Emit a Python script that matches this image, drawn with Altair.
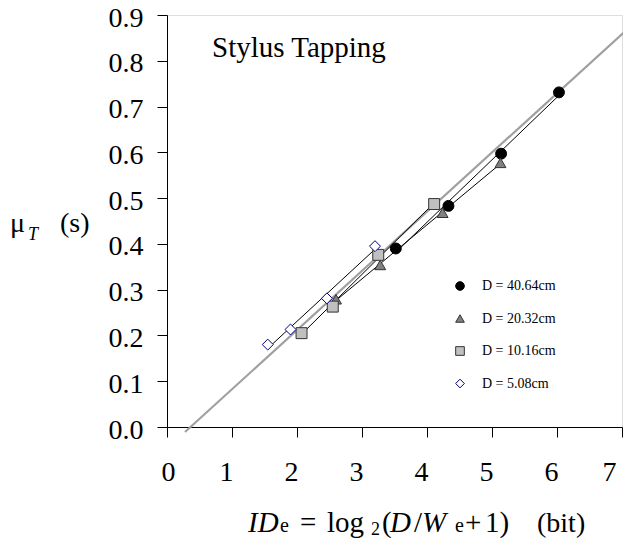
import altair as alt
import pandas as pd

# ---- data ----
d_labels = ["D = 40.64cm", "D = 20.32cm", "D = 10.16cm", "D = 5.08cm"]
x_4064 = [3.52, 4.33, 5.14, 6.03]
y_4064 = [0.390, 0.483, 0.597, 0.731]
x_2032 = [2.60, 3.28, 4.24, 5.13]
y_2032 = [0.279, 0.354, 0.468, 0.577]
x_1016 = [2.07, 2.55, 3.25, 4.11]
y_1016 = [0.205, 0.263, 0.376, 0.487]
x_508 = [1.55, 1.90, 2.46, 3.20]
y_508 = [0.180, 0.213, 0.281, 0.395]
x_ticks = [0, 1, 2, 3, 4, 5, 6, 7]
y_ticks = [0.0, 0.1, 0.2, 0.3, 0.4, 0.5, 0.6, 0.7, 0.8, 0.9]
# overall fit line (gray)
fit_extent = [0.277, 7.12]
fit_slope = 0.1293
fit_intercept = -0.0468

rows = []
for lab, xs, ys in zip(d_labels, [x_4064, x_2032, x_1016, x_508],
                       [y_4064, y_2032, y_1016, y_508]):
    for xv, yv in zip(xs, ys):
        rows.append({"D": lab, "x": xv, "y": yv})
df = pd.DataFrame(rows)
fit_df = pd.DataFrame({"x": fit_extent})

FONT = "Times New Roman, Liberation Serif, serif"

xscale = alt.Scale(domain=[0, 7], nice=False, zero=False)
yscale = alt.Scale(domain=[0, 0.9], nice=False, zero=False)

xaxis = alt.Axis(values=x_ticks, format="d", title=None, grid=False,
                 domainColor="black", tickColor="black", tickSize=10,
                 labelFont=FONT, labelFontSize=28, labelColor="black",
                 labelPadding=21, labelOffset=-6)
yaxis = alt.Axis(values=y_ticks, format=".1f", title=None, grid=False,
                 domainColor="black", tickColor="black", tickSize=10,
                 labelFont=FONT, labelFontSize=28, labelColor="black",
                 labelPadding=14, labelOffset=3)

base = alt.Chart(df)

overall = alt.Chart(fit_df).transform_calculate(
    y=f"{fit_intercept} + {fit_slope} * datum.x"
).mark_line(color="#a0a0a0", strokeWidth=2.2, clip=False).encode(
    x=alt.X("x:Q", scale=xscale, axis=xaxis),
    y=alt.Y("y:Q", scale=yscale, axis=yaxis))

series_fit = base.transform_regression("x", "y", groupby=["D"]).mark_line(
    color="black", strokeWidth=1
).encode(x="x:Q", y="y:Q", detail="D:N")

legend = alt.Legend(title=None, orient="none", legendX=286, legendY=264,
                    labelFont=FONT, labelFontSize=14, labelColor="black",
                    symbolSize=75, rowPadding=18.5, labelOffset=15,
                    symbolStrokeWidth=1)

points = base.mark_point(size=120, filled=False, opacity=1, strokeWidth=1).encode(
    x="x:Q", y="y:Q",
    shape=alt.Shape("D:N", sort=d_labels,
                    scale=alt.Scale(domain=d_labels,
                                    range=["circle", "triangle-up", "square", "diamond"]),
                    legend=legend),
    fill=alt.Fill("D:N", sort=d_labels,
                  scale=alt.Scale(domain=d_labels,
                                  range=["black", "#808080", "#c0c0c0", "white"]),
                  legend=legend),
    stroke=alt.Stroke("D:N", sort=d_labels,
                      scale=alt.Scale(domain=d_labels,
                                      range=["black", "#333333", "#333333", "#000080"]),
                      legend=legend),
)

one = alt.Data(values=[{"a": 1}])


def txt(s, x, y, size=29, italic=False):
    return alt.Chart(one).mark_text(
        text=s, font=FONT, fontSize=size, align="left", baseline="alphabetic",
        color="black", fontStyle="italic" if italic else "normal", clip=False
    ).encode(x=alt.value(x), y=alt.value(y))


XT = 517  # baseline of the x title (plot coordinates)
labels = [
    txt("Stylus Tapping", 45, 42, size=29),
    # y title  mu_T (s)
    txt("μ", -157, 217, size=28),
    txt("T", -139, 225, size=18, italic=True),
    txt("(s)", -107, 217, size=28),
    # x title  ID_e = log2(D/We+1) (bit)
    txt("ID", 81, XT, italic=True),
    txt("e", 113, XT, size=20),
    txt("=", 133, XT),
    txt("log", 160, XT),
    txt("2", 204, XT + 3, size=18),
    txt("(", 215, XT),
    txt("D", 223, XT, italic=True),
    txt("/", 247, XT),
    txt("W", 255, XT, italic=True),
    txt("e", 288, XT, size=20),
    txt("+", 298, XT),
    txt("1)", 318, XT),
    txt("(bit)", 370, XT, size=28),
]

chart = alt.layer(overall, series_fit, points, *labels).properties(
    width=455, height=412,
    autosize=alt.AutoSizeParams(type="none"),
    padding={"left": 159, "top": 7, "right": 1, "bottom": 111},
).configure_view(stroke="#909090", strokeWidth=1).configure(background="white")

chart.save("out.html", embed_options={"renderer": "svg", "actions": False})
